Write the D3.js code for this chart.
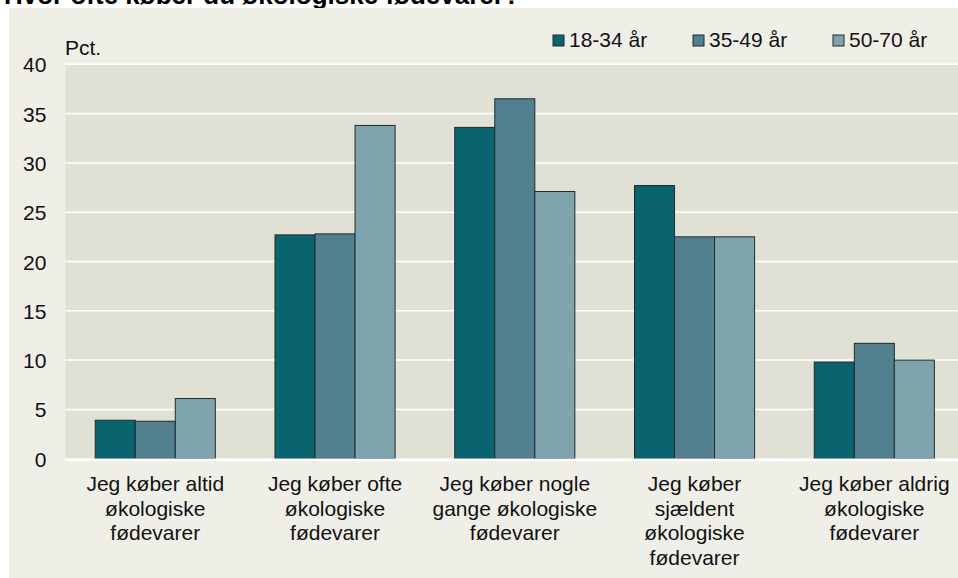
<!DOCTYPE html>
<html>
<head>
<meta charset="utf-8">
<script src="https://cdn.jsdelivr.net/npm/d3@7"></script>
<style>
  html, body { margin: 0; padding: 0; background: #ffffff; }
  svg { display: block; font-family: Arial, "Liberation Sans", Helvetica, sans-serif; }
</style>
</head>
<body>
<svg id="chart" width="958" height="578"></svg>
<script>
const title = "Hvor ofte køber du økologiske fødevarer?";
const yAxisLabel = "Pct.";
const categories = [
  ["Jeg køber altid", "økologiske", "fødevarer"],
  ["Jeg køber ofte", "økologiske", "fødevarer"],
  ["Jeg køber nogle", "gange økologiske", "fødevarer"],
  ["Jeg køber", "sjældent", "økologiske", "fødevarer"],
  ["Jeg køber aldrig", "økologiske", "fødevarer"]
];
const seriesNames = ["18-34 år", "35-49 år", "50-70 år"];
const values18_34 = [3.9, 22.7, 33.6, 27.7, 9.8];
const values35_49 = [3.8, 22.8, 36.5, 22.5, 11.7];
const values50_70 = [6.1, 33.8, 27.1, 22.5, 10.0];
const yTicks = [0, 5, 10, 15, 20, 25, 30, 35, 40];
const colors = ["#0a6470", "#52808e", "#80a4ad"];

const seriesValues = [values18_34, values35_49, values50_70];
const svg = d3.select("#chart");
const FS = 21;

// title (partially cut off at the top, as in the source)
svg.append("text").attr("x", 4).attr("y", 4).attr("font-size", 26).attr("font-weight", "bold")
  .attr("fill", "#000").text(title);

// outer panel
svg.append("rect").attr("x", 9).attr("y", 8).attr("width", 949).attr("height", 570).attr("fill", "#efefe8");

const pLeft = 65.4, pRight = 964.2, pTop = 64.3, pBottom = 458.7;
const x0 = d3.scaleBand().domain(d3.range(categories.length)).range([pLeft, pRight])
  .paddingInner(0.332).paddingOuter(0.166);
const x1 = d3.scaleBand().domain(d3.range(seriesNames.length)).range([0, x0.bandwidth()]);
const y = d3.scaleLinear().domain([0, 40]).range([pBottom, pTop]);

svg.append("rect").attr("x", pLeft).attr("y", pTop).attr("width", pRight - pLeft).attr("height", pBottom - pTop)
  .attr("fill", "#e0e0d5");

// gridlines
svg.append("g").selectAll("line").data(yTicks.filter(d => d > 0)).join("line")
  .attr("x1", pLeft).attr("x2", pRight).attr("y1", d => y(d)).attr("y2", d => y(d))
  .attr("stroke", "#ffffff").attr("stroke-width", 1.5);

// y axis labels
const yAxis = d3.axisLeft(y).tickValues(yTicks).tickSize(0).tickPadding(19);
const yg = svg.append("g").attr("transform", `translate(${pLeft},0)`).call(yAxis);
yg.select(".domain").remove();
yg.selectAll("text").attr("font-size", FS).attr("fill", "#111").attr("font-family", "Arial, 'Liberation Sans', sans-serif").attr("dy", "0.36em");

svg.append("text").attr("x", 65).attr("y", 55).attr("font-size", FS).attr("fill", "#111").text(yAxisLabel);

// bars
const groups = svg.append("g").selectAll("g").data(categories).join("g")
  .attr("transform", (d, i) => `translate(${x0(i)},0)`);
groups.selectAll("rect").data((d, i) => seriesValues.map((s, j) => ({ s: j, v: s[i] }))).join("rect")
  .attr("x", d => x1(d.s)).attr("width", x1.bandwidth())
  .attr("y", d => y(d.v)).attr("height", d => y(0) - y(d.v))
  .attr("fill", d => colors[d.s]).attr("stroke", "#1d2b2f").attr("stroke-width", 1);

// zero line
svg.append("line").attr("x1", pLeft).attr("x2", pRight).attr("y1", y(0) + 1).attr("y2", y(0) + 1)
  .attr("stroke", "#ffffff").attr("stroke-width", 2.5);

// x labels
const xl = svg.append("g").selectAll("text").data(categories).join("text")
  .attr("x", (d, i) => x0(i) + x0.bandwidth() / 2).attr("y", 491)
  .attr("text-anchor", "middle").attr("font-size", FS).attr("fill", "#111");
xl.selectAll("tspan").data(d => d).join("tspan")
  .attr("x", function () { return d3.select(this.parentNode).attr("x"); })
  .attr("dy", (d, i) => i === 0 ? 0 : 24.7).text(d => d);

// legend
const legendX = [553, 693, 833];
const lg = svg.append("g").selectAll("g").data(seriesNames).join("g")
  .attr("transform", (d, i) => `translate(${legendX[i]},35)`);
lg.append("rect").attr("width", 11).attr("height", 11).attr("fill", (d, i) => colors[i])
  .attr("stroke", "#1d2b2f").attr("stroke-width", 1);
lg.append("text").attr("x", 16).attr("y", 11.7).attr("font-size", FS).attr("fill", "#111").text(d => d);
</script>
</body>
</html>
